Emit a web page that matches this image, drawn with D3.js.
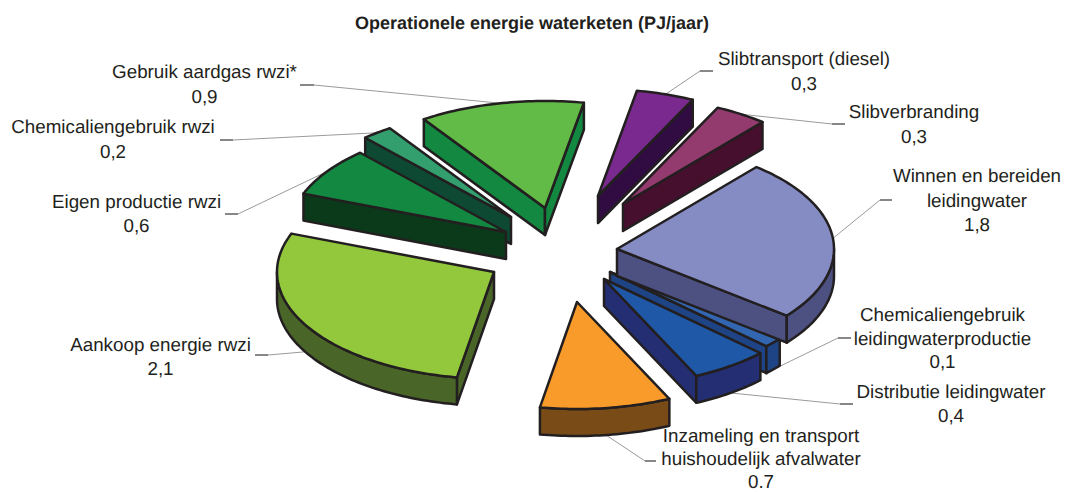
<!DOCTYPE html>
<html><head><meta charset="utf-8">
<script src="https://cdn.jsdelivr.net/npm/d3@7/dist/d3.min.js"></script>
<style>html,body{margin:0;padding:0;background:#fff}svg{display:block}text{text-rendering:geometricPrecision}</style>
</head><body><svg id="c" width="1065" height="492"></svg>
<script>
const chartTitle = "Operationele energie waterketen (PJ/jaar)";
const categories = [["Winnen en bereiden","leidingwater"],["Chemicaliengebruik","leidingwaterproductie"],["Distributie leidingwater"],["Inzameling en transport","huishoudelijk afvalwater"],["Aankoop energie rwzi"],["Eigen productie rwzi"],["Chemicaliengebruik rwzi"],["Gebruik aardgas rwzi*"],["Slibtransport (diesel)"],["Slibverbranding"]];
const values = [1.82,0.11,0.43,0.72,2.08,0.55,0.17,0.91,0.32,0.29];
const valueLabels = ["1,8","0,1","0,4","0.7","2,1","0,6","0,2","0,9","0,3","0,3"];
const topColors = ["#858cc4","#3366b0","#1f58a7","#f99b2a","#93c83d","#128841","#339f6f","#62bb46","#7a2a8e","#933a6e"];
const wallColors = ["#4c5182","#1f4485","#232f72","#784b17","#4a6528","#0b3a1a","#0e4a33","#128841","#300c42","#460f2e"];
// layout
const explodeX = [57,50,44,17,-66,-54,-49,-15,38,63];
const explodeY = [-3,20,27,50,20,-20,-35,-44,-56,-48];
const drawOrder = [8,9,7,6,5,4,1,0,2,3];
const labelX = [977,942.5,951,761,160.5,136.5,113,204.5,804,914];
const labelY = [182,321,398,442,351,208,133,78,65,118];
const lineGap = [24.5,23.5,24,23,23.5,24,25,25,24.5,24.5];
const stubFrom = [[880,200],[838,338],[840,404],[645,461],[268,355],[238,214],[233,140],[314,85],[700,71],[832,124]];
const stubTo = [[892,200],[851,338],[853,404],[656,461],[255,355],[225,214],[220,140],[300,85],[713,71],[845,124]];
const cx=560, cy=252, rx=217, ry=107, depth=27;
const ink="#231f20";
const font="'Liberation Sans',Arial,sans-serif";

const svg=d3.select("#c");
const arcs=d3.pie().sort(null).startAngle(40*Math.PI/180).endAngle(400*Math.PI/180)(values);
const px=d3.scaleLinear().domain([-1,1]).range([-rx,rx]);
const py=d3.scaleLinear().domain([-1,1]).range([-ry,ry]);
const pt=(a,th,dz=0)=>[a.x+px(Math.sin(th)),a.y-py(Math.cos(th))+dz];
const line=d3.line();
const arcPts=(a,t0,t1,dz=0)=>{const n=Math.max(2,Math.ceil(Math.abs(t1-t0)/0.02));return d3.range(n+1).map(i=>pt(a,t0+(t1-t0)*i/n,dz));};
const slices=arcs.map((d,i)=>({i,t0:d.startAngle,t1:d.endAngle,x:cx+explodeX[i],y:cy+explodeY[i]}));

const gLead=svg.append("g");
const gPie=svg.append("g").attr("stroke",ink).attr("stroke-width",2.5).attr("stroke-linejoin","round");
drawOrder.forEach(i=>{
  const s=slices[i], g=gPie.append("g");
  const wall=wallColors[i];
  // radial walls facing the viewer
  [[s.t0,Math.sin(s.t0)<0],[s.t1,Math.sin(s.t1)>0]].forEach(([t,vis])=>{
    if(!vis) return;
    const e=pt(s,t);
    g.append("path").attr("fill",wall).attr("d",line([[s.x,s.y],e,[e[0],e[1]+depth],[s.x,s.y+depth]])+"Z");
  });
  // rounded outer wall on the front half of the rim
  const a0=Math.max(s.t0,Math.PI/2), a1=Math.min(s.t1,Math.PI*1.5);
  if(a1>a0){
    const pts=arcPts(s,a0,a1).concat(arcPts(s,a1,a0,depth));
    g.append("path").attr("fill",wall).attr("d",line(pts)+"Z");
  }
  g.append("path").attr("fill",topColors[i]).attr("d",line([[s.x,s.y],...arcPts(s,s.t0,s.t1)])+"Z");
});

slices.forEach(s=>{
  const m=(s.t0+s.t1)/2, front=Math.cos(m)<0;
  const start=pt(s,m,front?depth:0);
  gLead.append("path").attr("fill","none").attr("stroke","#9a9a9a").attr("stroke-width",1)
    .attr("d",line([start,stubFrom[s.i]]));
  svg.append("path").attr("fill","none").attr("stroke","#111").attr("stroke-width",1)
    .attr("d",line([stubFrom[s.i],stubTo[s.i]]));
  const t=svg.append("text").attr("text-anchor","middle").attr("font-family",font).attr("font-size",18.8).attr("fill",ink);
  categories[s.i].concat(valueLabels[s.i]).forEach((l,k)=>{
    t.append("tspan").attr("x",labelX[s.i]).attr("y",labelY[s.i]+k*lineGap[s.i]).text(l);
  });
});
svg.append("text").attr("x",532).attr("y",29).attr("text-anchor","middle").attr("font-family",font)
  .attr("font-size",18).attr("font-weight","bold").attr("fill",ink).text(chartTitle);
</script></body></html>
